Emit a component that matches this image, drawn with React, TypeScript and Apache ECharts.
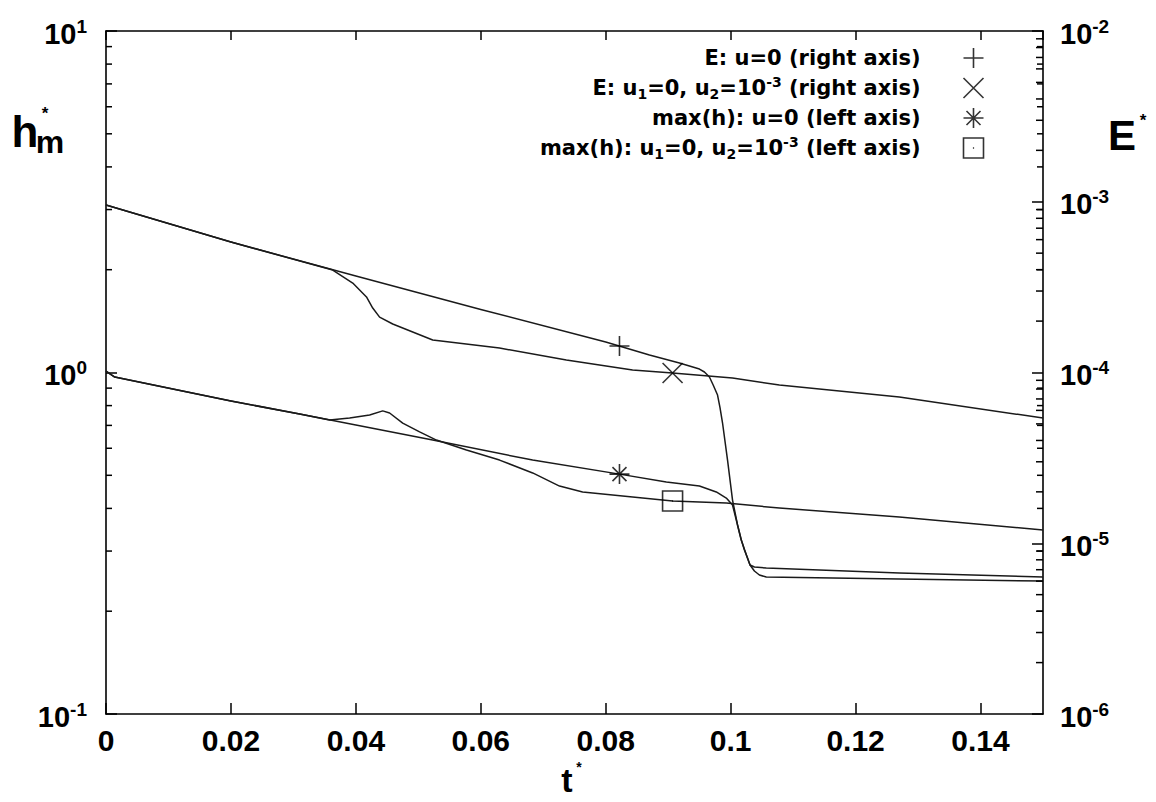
import React, { useEffect, useRef } from 'react';
import * as echarts from 'echarts';

// ---- data ----
// E (right axis), u = 0
const tEU0 = [0, 0.02, 0.04, 0.06, 0.08, 0.087, 0.0918, 0.095, 0.0958, 0.0966, 0.0972, 0.0979, 0.0983, 0.0987, 0.0995, 0.1003, 0.1011, 0.1017, 0.1022, 0.1027, 0.1031, 0.1038, 0.1046, 0.1057, 0.127, 0.15];
const eU0 = [9.57e-4, 5.81e-4, 3.67e-4, 2.34e-4, 1.51e-4, 1.266e-4, 1.137e-4, 1.048e-4, 1.007e-4, 9.41e-5, 8.45e-5, 7.38e-5, 6.2e-5, 5.06e-5, 3.07e-5, 1.79e-5, 1.28e-5, 1.045e-5, 9.13e-6, 8.2e-6, 7.46e-6, 6.88e-6, 6.52e-6, 6.34e-6, 6.17e-6, 6.01e-6];
// E (right axis), u1 = 0, u2 = 1e-3
const tEU2 = [0, 0.02, 0.0363, 0.0395, 0.0417, 0.0427, 0.0438, 0.0459, 0.0523, 0.063, 0.0737, 0.0843, 0.0907, 0.1003, 0.1078, 0.127, 0.15];
const eU2 = [9.57e-4, 5.81e-4, 3.98e-4, 3.34e-4, 2.77e-4, 2.385e-4, 2.11e-4, 1.923e-4, 1.55e-4, 1.391e-4, 1.184e-4, 1.034e-4, 9.93e-5, 9.28e-5, 8.45e-5, 7.19e-5, 5.41e-5];
// max(h) (left axis), u = 0
const tHU0 = [0, 0.0014, 0.02, 0.031, 0.04, 0.0523, 0.0683, 0.0822, 0.0897, 0.095, 0.0977, 0.0993, 0.1003, 0.1011, 0.1017, 0.1027, 0.1031, 0.1038, 0.1057, 0.127, 0.15];
const hU0 = [1.01, 0.97, 0.825, 0.756, 0.702, 0.634, 0.554, 0.504, 0.478, 0.465, 0.447, 0.429, 0.409, 0.3575, 0.323, 0.286, 0.273, 0.2694, 0.2676, 0.2588, 0.2519];
// max(h) (left axis), u1 = 0, u2 = 1e-3
const tHU2 = [0, 0.0014, 0.02, 0.031, 0.0358, 0.039, 0.0422, 0.0443, 0.0454, 0.0475, 0.0502, 0.0529, 0.0577, 0.063, 0.0683, 0.0726, 0.0763, 0.0843, 0.0907, 0.0993, 0.1078, 0.127, 0.15];
const hU2 = [1.01, 0.97, 0.825, 0.756, 0.726, 0.736, 0.751, 0.772, 0.761, 0.711, 0.67, 0.634, 0.593, 0.554, 0.508, 0.465, 0.447, 0.432, 0.4205, 0.4148, 0.401, 0.3776, 0.3458];

// single marker on each curve
const markerT = [0.0822, 0.0907, 0.0822, 0.0907];
const markerV = [1.43e-4, 9.93e-5, 0.504, 0.4205];

const seriesNames = [
  'E: u=0 (right axis)',
  'E: u1=0, u2=10-3 (right axis)',
  'max(h): u=0 (left axis)',
  'max(h): u1=0, u2=10-3 (left axis)',
];
const legendRich = [
  'E: u=0 (right axis)',
  'E: u{sb|1}=0, u{sb|2}=10{sp|-3} (right axis)',
  'max(h): u=0 (left axis)',
  'max(h): u{sb|1}=0, u{sb|2}=10{sp|-3} (left axis)',
];

// axis ticks
const xMin = 0;
const xMax = 0.15;
const xInterval = 0.02;
const leftMin = 0.1;
const leftMax = 10;
const rightMin = 1e-6;
const rightMax = 1e-2;
const leftMinorTicks = [0.2, 0.3, 0.4, 0.5, 0.6, 0.7, 0.8, 0.9, 2, 3, 4, 5, 6, 7, 8, 9];
const rightMinorTicks = [
  2e-6, 3e-6, 4e-6, 5e-6, 6e-6, 7e-6, 8e-6, 9e-6,
  2e-5, 3e-5, 4e-5, 5e-5, 6e-5, 7e-5, 8e-5, 9e-5,
  2e-4, 3e-4, 4e-4, 5e-4, 6e-4, 7e-4, 8e-4, 9e-4,
  2e-3, 3e-3, 4e-3, 5e-3, 6e-3, 7e-3, 8e-3, 9e-3,
];

const PLUS = 'path://M0,10L20,10M10,0L10,20';
const CROSS = 'path://M0,0L20,20M20,0L0,20';
const STAR = 'path://M0,10L20,10M10,0L10,20M3,3L17,17M17,3L3,17';
const SQUARE = 'path://M0,0L20,0L20,20L0,20ZM9.4,10L10.6,10';
const symbols = [PLUS, CROSS, STAR, SQUARE];
const markerAxis = [1, 1, 0, 0];

const FONT = 'Liberation Sans';
const LFONT = 'DejaVu Sans';

const zip = (a: number[], b: number[]) => a.map((t, i) => [t, b[i]]);

const expLabel = (v: number) => '10{sp|' + Math.round(Math.log10(v)) + '}';

const tickSeries = (values: number[], yAxisIndex: number, xAt: number, dir: number, len: number) => ({
  type: 'custom',
  xAxisIndex: 0,
  yAxisIndex,
  silent: true,
  clip: false,
  z: 6,
  data: values.map((v) => [xAt, v]),
  renderItem: (_p: any, api: any) => {
    const p = api.coord([api.value(0), api.value(1)]);
    return {
      type: 'line',
      shape: { x1: p[0], y1: p[1], x2: p[0] + dir * len, y2: p[1] },
      style: { stroke: '#000', lineWidth: 1.5 },
    };
  },
});

const axisLine = { onZero: false, lineStyle: { color: '#000', width: 1.6 } };
const yLabel = (pos: 'left' | 'right') => ({
  margin: pos === 'left' ? 19 : 17,
  fontSize: 29,
  fontWeight: 'bold',
  fontFamily: FONT,
  color: '#000',
  lineHeight: 34,
  padding: [5, 0, 0, 0],
  formatter: expLabel,
  rich: {
    sp: { fontSize: 19, fontWeight: 'bold', fontFamily: FONT, color: '#000', lineHeight: 16, verticalAlign: 'top' },
  },
});

export default function App() {
  const ref = useRef<HTMLDivElement>(null);
  useEffect(() => {
    if (!ref.current) return;
    const chart = echarts.init(ref.current, undefined, { renderer: 'svg' });
    const lineSeries = [
      { data: zip(tEU0, eU0), y: 1 },
      { data: zip(tEU2, eU2), y: 1 },
      { data: zip(tHU0, hU0), y: 0 },
      { data: zip(tHU2, hU2), y: 0 },
    ].map((s, i) => ({
      type: 'line',
      name: 'curve' + i,
      xAxisIndex: 0,
      yAxisIndex: s.y,
      data: s.data,
      showSymbol: false,
      symbol: 'none',
      silent: true,
      z: 3,
      lineStyle: { color: '#1a1a1a', width: 1.5, join: 'round' },
    }));
    const markerSeries = seriesNames.map((name, i) => ({
      type: 'scatter',
      name,
      xAxisIndex: 0,
      yAxisIndex: markerAxis[i],
      data: [[markerT[i], markerV[i]]],
      symbol: symbols[i],
      symbolSize: 20,
      silent: true,
      z: 5,
      itemStyle: { color: 'none', borderColor: '#000', borderWidth: 1.6 },
    }));
    const option: any = {
      animation: false,
      backgroundColor: '#ffffff',
      grid: { left: 106, right: 113, top: 31, bottom: 88, containLabel: false },
      legend: {
        data: seriesNames.map((name, i) => ({ name, icon: symbols[i] })),
        orient: 'vertical',
        align: 'right',
        right: 170,
        top: 45,
        padding: 0,
        itemGap: 4,
        itemWidth: 96,
        itemHeight: 20,
        selectedMode: false,
        itemStyle: { color: 'none', borderColor: '#000', borderWidth: 1.6 },
        formatter: (name: string) => legendRich[seriesNames.indexOf(name)],
        textStyle: {
          fontFamily: LFONT,
          fontWeight: 'bold',
          fontSize: 21,
          color: '#000',
          lineHeight: 26,
          rich: {
            sb: { fontFamily: LFONT, fontWeight: 'bold', fontSize: 14, color: '#000', lineHeight: 12, verticalAlign: 'bottom' },
            sp: { fontFamily: LFONT, fontWeight: 'bold', fontSize: 14, color: '#000', lineHeight: 10, verticalAlign: 'top' },
          },
        },
      },
      xAxis: [
        {
          type: 'value', min: xMin, max: xMax, interval: xInterval, position: 'bottom',
          axisLine,
          axisTick: { inside: true, length: 11, lineStyle: { color: '#000', width: 1.5 } },
          axisLabel: {
            margin: 11, fontSize: 30, fontWeight: 'bold', fontFamily: FONT, color: '#000',
            showMaxLabel: false,
            formatter: (v: number) => (v === 0 ? '0' : String(Math.round(v * 100) / 100)),
          },
          splitLine: { show: false },
        },
        {
          type: 'value', min: xMin, max: xMax, interval: xInterval, position: 'top',
          axisLine,
          axisTick: { inside: true, length: 9, lineStyle: { color: '#000', width: 1.5 } },
          axisLabel: { show: false },
          splitLine: { show: false },
        },
      ],
      yAxis: [
        {
          type: 'log', logBase: 10, min: leftMin, max: leftMax, position: 'left',
          axisLine,
          axisTick: { inside: true, length: 11, lineStyle: { color: '#000', width: 1.5 } },
          axisLabel: yLabel('left'),
          splitLine: { show: false },
        },
        {
          type: 'log', logBase: 10, min: rightMin, max: rightMax, position: 'right',
          axisLine,
          axisTick: { inside: true, length: 11, lineStyle: { color: '#000', width: 1.5 } },
          axisLabel: yLabel('right'),
          splitLine: { show: false },
        },
      ],
      graphic: [
        { type: 'text', x: 25, y: 131, style: { text: 'h', font: `bold 44px "${FONT}"`, fill: '#000', align: 'center', verticalAlign: 'middle' } },
        { type: 'text', x: 50, y: 142, style: { text: 'm', font: `bold 32px "${FONT}"`, fill: '#000', align: 'center', verticalAlign: 'middle' } },
        { type: 'text', x: 45, y: 113, style: { text: '*', font: `bold 17px "${FONT}"`, fill: '#000', align: 'center', verticalAlign: 'middle' } },
        { type: 'text', x: 1122, y: 135, style: { text: 'E', font: `bold 42px "${FONT}"`, fill: '#000', align: 'center', verticalAlign: 'middle' } },
        { type: 'text', x: 1143, y: 120, style: { text: '*', font: `bold 17px "${FONT}"`, fill: '#000', align: 'center', verticalAlign: 'middle' } },
        { type: 'text', x: 567, y: 780, style: { text: 't', font: `bold 34px "${FONT}"`, fill: '#000', align: 'center', verticalAlign: 'middle' } },
        { type: 'text', x: 579, y: 767, style: { text: '*', font: `bold 14px "${FONT}"`, fill: '#000', align: 'center', verticalAlign: 'middle' } },
      ],
      series: [
        ...lineSeries,
        ...markerSeries,
        tickSeries(leftMinorTicks, 0, xMin, 1, 6),
        tickSeries(leftMinorTicks, 0, xMax, -1, 6),
        tickSeries(rightMinorTicks, 1, xMax, -1, 7),
      ],
    };
    chart.setOption(option);
    return () => chart.dispose();
  }, []);
  return <div ref={ref} style={{ position: 'absolute', left: 0, top: 0, width: 1156, height: 802 }} />;
}
